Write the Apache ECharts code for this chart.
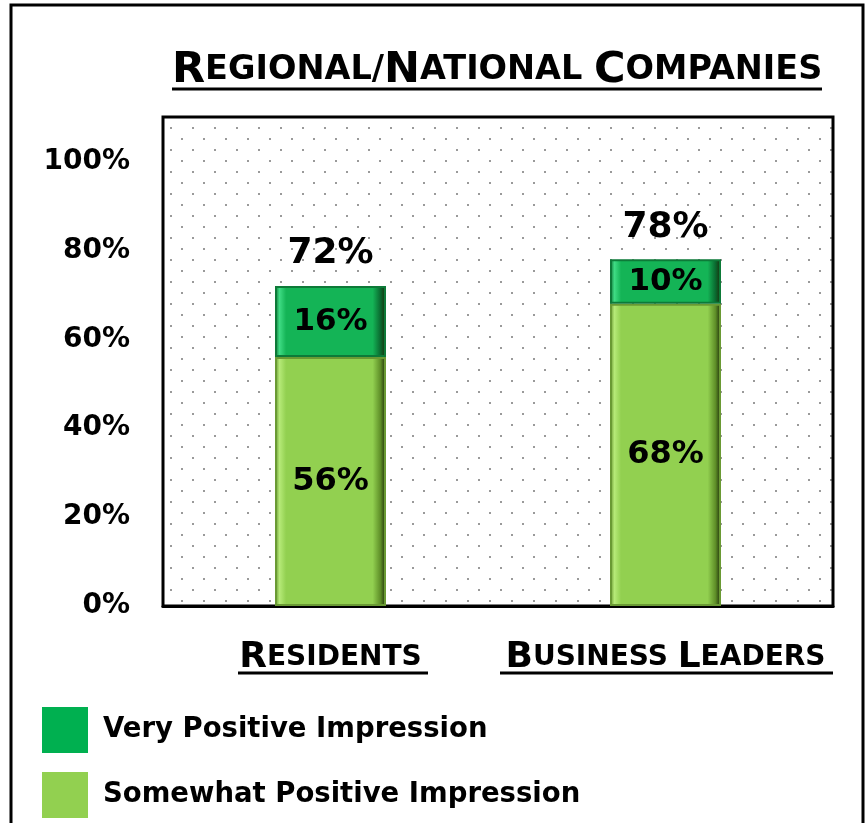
<!DOCTYPE html>
<html>
<head>
<meta charset="utf-8">
<script src="https://cdn.jsdelivr.net/npm/echarts@6/dist/echarts.min.js"></script>
<style>
  html, body { margin: 0; padding: 0; background: #fff; }
  #chart { width: 867px; height: 823px; }
</style>
</head>
<body>
<div id="chart"></div>
<script>
var titleText = 'Regional/National Companies';
var categories = ['Residents', 'Business Leaders'];
var seriesNames = ['Very Positive Impression', 'Somewhat Positive Impression'];
var somewhatValues = [56, 68];
var veryValues = [16, 10];
var totalValues = [72, 78];
var yTicks = [0, 20, 40, 60, 80, 100];

var FONT = 'DejaVu Sans';

// upper case letters big, the rest as small capitals
function smallCaps(str) {
    var out = '';
    var run = '', big = null;
    for (var i = 0; i < str.length; i++) {
        var ch = str[i];
        var isBig = ch !== ch.toLowerCase();
        if (big !== null && isBig !== big) {
            out += '{' + (big ? 'b' : 's') + '|' + run.toUpperCase() + '}';
            run = '';
        }
        run += ch;
        big = isBig;
    }
    out += '{' + (big ? 'b' : 's') + '|' + run.toUpperCase() + '}';
    return out;
}

// dotted pattern of the plot area
var dots = document.createElement('canvas');
dots.width = 22;
dots.height = 22;
var dctx = dots.getContext('2d');
dctx.fillStyle = '#9a9a9a';
dctx.fillRect(5, 6, 2, 2);
dctx.fillRect(16, 17, 2, 2);

function bevel(light, base, dark) {
    return {
        type: 'linear', x: 0, y: 0, x2: 1, y2: 0,
        colorStops: [
            { offset: 0, color: dark },
            { offset: 0.04, color: light },
            { offset: 0.1, color: base },
            { offset: 0.88, color: base },
            { offset: 0.95, color: dark },
            { offset: 1, color: '#1a2a08' }
        ]
    };
}

var myChart = echarts.init(document.getElementById('chart'));

option = {
    animation: false,
    textStyle: { fontFamily: FONT },
    title: {
        text: smallCaps(titleText),
        left: 172,
        top: 49,
        padding: 0,
        textStyle: {
            rich: {
                b: { fontFamily: FONT, fontWeight: 'bold', fontSize: 43, color: '#000' },
                s: { fontFamily: FONT, fontWeight: 'bold', fontSize: 33.5, color: '#000' }
            }
        }
    },
    legend: {
        orient: 'vertical',
        left: 42,
        top: 707,
        padding: 0,
        itemWidth: 46,
        itemHeight: 46,
        itemGap: 19,
        icon: 'rect',
        itemStyle: { borderWidth: 0 },
        data: [
            { name: seriesNames[0], itemStyle: { color: '#00b050' } },
            { name: seriesNames[1], itemStyle: { color: '#92d050' } }
        ],
        textStyle: {
            fontFamily: FONT,
            fontWeight: 'bold',
            fontSize: 27.5,
            color: '#000',
            padding: [0, 0, 0, 10]
        }
    },
    grid: {
        left: 163,
        right: 34,
        top: 117,
        bottom: 217,
        show: true,
        borderColor: '#000',
        borderWidth: 3,
        backgroundColor: { image: dots, repeat: 'repeat' }
    },
    xAxis: {
        type: 'category',
        data: categories,
        axisLine: { lineStyle: { color: '#000', width: 3 } },
        axisTick: { show: false },
        axisLabel: {
            margin: 34,
            formatter: function (v) { return smallCaps(v); },
            rich: {
                b: { fontFamily: FONT, fontWeight: 'bold', fontSize: 36, color: '#000' },
                s: { fontFamily: FONT, fontWeight: 'bold', fontSize: 28, color: '#000' }
            }
        }
    },
    yAxis: {
        type: 'value',
        min: 0,
        max: 110,
        interval: 20,
        splitLine: { show: false },
        axisLine: { show: false },
        axisTick: { show: false },
        axisLabel: {
            margin: 33,
            fontFamily: FONT,
            fontWeight: 'bold',
            fontSize: 28,
            color: '#000',
            formatter: function (v) {
                return yTicks.indexOf(v) >= 0 ? v + '%' : '';
            }
        }
    },
    series: [{
        name: seriesNames[1],
        type: 'bar',
        stack: 'all',
        barWidth: 111,
        data: somewhatValues,
        itemStyle: {
            color: bevel('#b6ea78', '#92d050', '#5f8f28'),
            borderColor: '#6a9a34',
            borderWidth: 2
        },
        label: {
            show: true,
            position: 'inside',
            formatter: '{c}%',
            fontFamily: FONT,
            fontWeight: 'bold',
            fontSize: 32,
            color: '#000'
        }
    }, {
        name: seriesNames[0],
        type: 'bar',
        stack: 'all',
        barWidth: 111,
        data: veryValues,
        itemStyle: {
            color: bevel('#3fdc84', '#14b456', '#0a6a30'),
            borderColor: '#0d7a38',
            borderWidth: 2
        },
        label: {
            show: true,
            position: 'inside',
            formatter: '{c}%',
            fontFamily: FONT,
            fontWeight: 'bold',
            fontSize: 31,
            color: '#000'
        }
    }, {
        name: 'Total',
        type: 'scatter',
        symbolSize: 0,
        data: totalValues,
        itemStyle: { opacity: 1 },
        label: {
            show: true,
            position: 'top',
            distance: 14,
            formatter: '{c}%',
            fontFamily: FONT,
            fontWeight: 'bold',
            fontSize: 36,
            color: '#000'
        }
    }],
    graphic: [{
        type: 'rect',
        shape: { x: 11, y: 5, width: 852, height: 830 },
        style: { fill: null, stroke: '#000', lineWidth: 3 },
        silent: true
    }, {
        type: 'line',
        shape: { x1: 172, y1: 89, x2: 822, y2: 89 },
        style: { stroke: '#000', lineWidth: 3 }
    }, {
        type: 'line',
        shape: { x1: 238, y1: 673, x2: 428, y2: 673 },
        style: { stroke: '#000', lineWidth: 3 }
    }, {
        type: 'line',
        shape: { x1: 500, y1: 673, x2: 833, y2: 673 },
        style: { stroke: '#000', lineWidth: 3 }
    }]
};

myChart.setOption(option);
</script>
</body>
</html>
